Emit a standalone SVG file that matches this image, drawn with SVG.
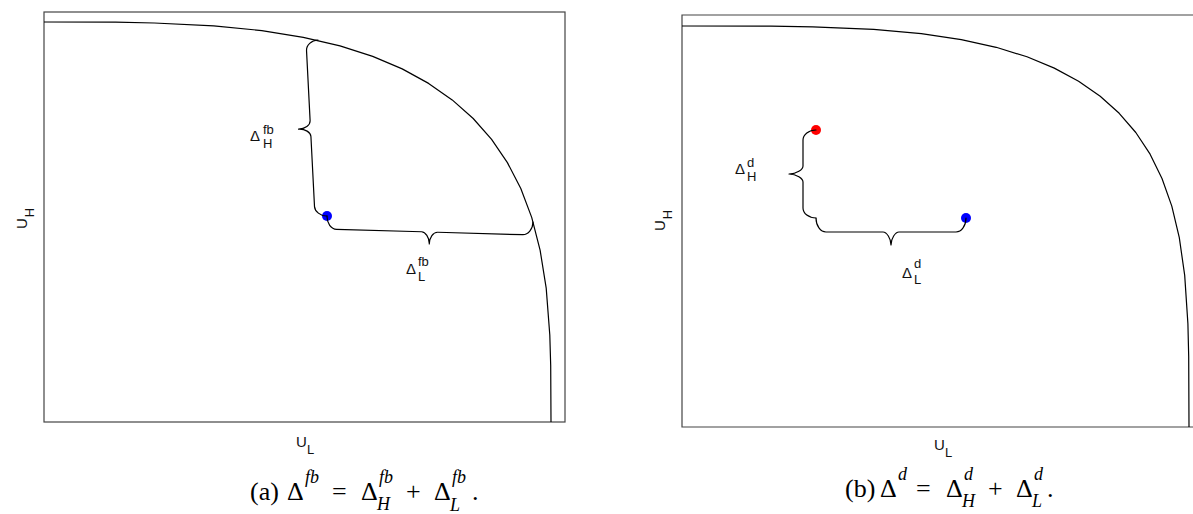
<svg xmlns="http://www.w3.org/2000/svg" width="1193" height="514" viewBox="0 0 1193 514">
<style>
.frame{fill:none;stroke:#444;stroke-width:1.2}
.curve{fill:none;stroke:#000;stroke-width:1.2;stroke-linejoin:round}
.brace{fill:none;stroke:#000;stroke-width:1.2;stroke-linejoin:round;stroke-linecap:round}
.lab{font-family:"Liberation Sans",Arial,sans-serif;font-size:15px;fill:#111}
.sm{font-family:"Liberation Sans",Arial,sans-serif;font-size:13px;fill:#111}
.cap{font-family:"Liberation Serif","DejaVu Serif",serif;font-size:26px;fill:#000}
.capi{font-family:"Liberation Serif","DejaVu Serif",serif;font-size:18px;font-style:italic;fill:#000}
</style>
<rect width="1193" height="514" fill="#fff"/>

<g id="panel-a">
  <rect class="frame" x="44" y="12" width="521" height="410"/>
  <polyline class="curve" points="44,22 115.6,22.2 154.3,23.0 213.7,25.8 261.8,30.6 303.3,37.3 340.0,45.9 372.7,56.4 402.2,68.9 428.6,83.4 452.2,99.9 473.2,118.5 491.6,139.4 507.4,162.6 520.8,188.5 531.7,217.4 540.1,250.1 546.2,288.1 549.8,335.0 550.7,365.5 551,422"/>
  <circle id="a-point" cx="327" cy="216" r="5" fill="#0000ff"/>
  <g id="a-connectors">
    <path class="brace" transform="translate(318,40) rotate(87.07)" d="M0,0 C0,6.6 4.5,12 10,12 L80.1,12 C84.5,12 88.1,17.4 88.1,24 C88.1,17.4 91.7,12 96.1,12 L166.2,12 C170.7,12 176.2,6.6 176.2,0"/>
    <path class="brace" transform="translate(327,216) rotate(1.67)" d="M0,0 C0,7.2 4.5,13 10,13 L95.05,13 C98.6,13 103.05,18.4 103.05,25 C103.05,18.4 106.6,13 111.05,13 L196.1,13 C201.6,13 206.1,7.2 206.1,0"/>
  </g>
  <g id="a-label-H">
    <text class="lab" x="250" y="141">Δ</text>
    <text class="sm" x="263" y="148">H</text>
    <text class="sm" x="263" y="134">fb</text>
  </g>
  <g id="a-label-L">
    <text class="lab" x="406" y="274">Δ</text>
    <text class="sm" x="418" y="281">L</text>
    <text class="sm" x="418" y="266">fb</text>
  </g>
  <g id="a-axis-x">
    <text class="lab" x="296" y="447">U</text>
    <text class="sm" x="307" y="454">L</text>
  </g>
  <g id="a-axis-y">
    <text class="lab" transform="translate(27,229) rotate(-90)">U<tspan class="sm" dx="1" dy="7">H</tspan></text>
  </g>
  <g id="a-caption">
    <text class="cap" x="250" y="500">(a)</text>
    <text class="cap" x="287" y="500">Δ</text>
    <text class="capi" x="305" y="483">fb</text>
    <text class="cap" x="332" y="500">=</text>
    <text class="cap" x="361" y="500">Δ</text>
    <text class="capi" x="379" y="483">fb</text>
    <text class="capi" x="377" y="510">H</text>
    <text class="cap" x="406" y="500">+</text>
    <text class="cap" x="434" y="500">Δ</text>
    <text class="capi" x="452" y="483">fb</text>
    <text class="capi" x="450" y="511">L</text>
    <text class="cap" x="472" y="500">.</text>
  </g>
</g>

<g id="panel-b">
  <path class="frame" d="M1193,15 H682 V427 H1193"/>
  <polyline class="curve" points="682,26 771.0,26.2 812.7,26.85 873.7,29.4 921.3,33.65 961.3,39.6 996.2,47.3 1027.0,56.8 1054.3,68.1 1078.6,81.2 1100.2,96.2 1119.2,113.3 1135.8,132.5 1150.1,154.2 1162.0,178.5 1171.8,206.1 1179.3,237.7 1184.7,275.4 1187.9,323.6 1188.7,356.6 1189,427"/>
  <circle id="b-point-red" cx="816" cy="130" r="5" fill="#ff0000"/>
  <circle id="b-point-blue" cx="966" cy="218" r="5" fill="#0000ff"/>
  <g id="b-connectors">
    <path class="brace" transform="translate(816,130) rotate(90)" d="M0,0 C0,7.2 4.5,13 10,13 L36,13 C39.6,13 44,19.3 44,27 C44,19.3 48.4,13 52,13 L78,13 C83.5,13 88,7.2 88,0"/>
    <path class="brace" transform="translate(816,218)" d="M0,0 C0,7.7 4.5,14 10,14 L67,14 C70.6,14 75,20.3 75,27 C75,20.3 79.4,14 83,14 L140,14 C145.5,14 150,7.7 150,0"/>
  </g>
  <g id="b-label-H">
    <text class="lab" x="735" y="174">Δ</text>
    <text class="sm" x="747" y="181">H</text>
    <text class="sm" x="747" y="167">d</text>
  </g>
  <g id="b-label-L">
    <text class="lab" x="902" y="278">Δ</text>
    <text class="sm" x="914" y="284">L</text>
    <text class="sm" x="914" y="268">d</text>
  </g>
  <g id="b-axis-x">
    <text class="lab" x="934" y="450">U</text>
    <text class="sm" x="945" y="457">L</text>
  </g>
  <g id="b-axis-y">
    <text class="lab" transform="translate(665,231) rotate(-90)">U<tspan class="sm" dx="1" dy="7">H</tspan></text>
  </g>
  <g id="b-caption">
    <text class="cap" x="845" y="497">(b)</text>
    <text class="cap" x="880" y="497">Δ</text>
    <text class="capi" x="898" y="480">d</text>
    <text class="cap" x="916" y="497">=</text>
    <text class="cap" x="946" y="497">Δ</text>
    <text class="capi" x="964" y="480">d</text>
    <text class="capi" x="962" y="507">H</text>
    <text class="cap" x="988" y="497">+</text>
    <text class="cap" x="1016" y="497">Δ</text>
    <text class="capi" x="1034" y="480">d</text>
    <text class="capi" x="1032" y="507">L</text>
    <text class="cap" x="1047" y="497">.</text>
  </g>
</g>
</svg>
